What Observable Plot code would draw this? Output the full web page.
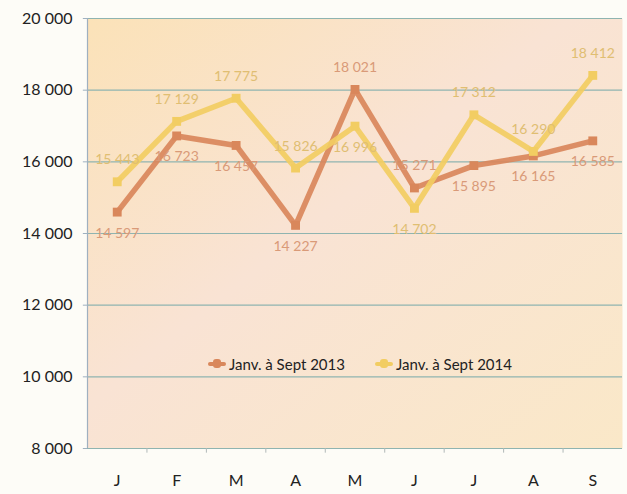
<!DOCTYPE html>
<html>
<head>
<meta charset="utf-8">
<script src="https://cdn.jsdelivr.net/npm/d3@7"></script>
<script src="https://cdn.jsdelivr.net/npm/@observablehq/plot@0.6"></script>
<style>
  html, body { margin: 0; padding: 0; background: #fdfcf7; }
  #wrap { position: relative; width: 627px; height: 494px; }
  #legend { position: absolute; left: 208px; top: 355px; display: flex; gap: 30px;
    font-family: Lato, "Open Sans", sans-serif; font-size: 15px; color: #222; }
  .item { display: flex; align-items: center; gap: 3px; }
  .sw { position: relative; width: 18px; height: 4px; border-radius: 2px; }
  .sw::after { content: ""; position: absolute; left: 5px; top: -3px; width: 8px; height: 9px; border-radius: 3px; background: inherit; }
</style>
</head>
<body>
<div id="wrap"></div>
<script>
const months = ["J", "F", "M", "A", "M", "J", "J", "A", "S"];
const series = ["Janv. à Sept 2013", "Janv. à Sept 2014"];
const values2013 = [14597, 16723, 16457, 14227, 18021, 15271, 15895, 16165, 16585];
const values2014 = [15443, 17129, 17775, 15826, 16996, 14702, 17312, 16290, 18412];
const labelSide2013 = ["below","below","below","below","above","above","below","below","below"];
const labelSide2014 = ["above","above","above","above","below","below","above","above","above"];
const yTicks = [8000, 10000, 12000, 14000, 16000, 18000, 20000];
const colors = ["#d9875b", "#f2cd62"];
const labelColors = ["#d99a78", "#e0be72"];

const rows = [];
months.forEach((m, i) => {
  rows.push({i, month: m, value: values2013[i], series: series[0], side: labelSide2013[i]});
  rows.push({i, month: m, value: values2014[i], series: series[1], side: labelSide2014[i]});
});
const fmt = v => d3.format(",")(v).replace(/,/g, "\u00a0");
const font = "Lato, 'Open Sans', sans-serif";

const plot = Plot.plot({
  width: 627,
  height: 494,
  marginLeft: 87,
  marginRight: 5,
  marginTop: 18,
  marginBottom: 46,
  style: {background: "transparent", fontFamily: font},
  x: {domain: [-0.5, 8.5], axis: null},
  y: {domain: [8000, 20000], axis: null},
  color: {domain: series, range: colors},
  marks: [
    Plot.frame({fill: "url(#bgGrad)", stroke: null}),
    Plot.ruleY(yTicks, {stroke: "#8fb4b0", strokeWidth: 1.2}),
    Plot.ruleX([-0.5], {y1: 8000, y2: 20000, stroke: "#9fb0c0", strokeWidth: 1.2}),
    Plot.ruleX(d3.range(0.5, 8.5, 1), {y1: 8000, y2: 7870, stroke: "#b0b8b8"}),
    Plot.ruleY(yTicks, {x1: -0.5, x2: -0.57, stroke: "#9fb0c0"}),
    Plot.text(yTicks, {x: -0.5, y: d => d, text: fmt, textAnchor: "end", dx: -15, fontSize: 16, fill: "#222", fontFamily: font, letterSpacing: -0.4}),
    Plot.text(months, {x: (d, i) => i, y: 8000, text: d => d, dy: 32, fontSize: 16, fill: "#222", fontFamily: font}),
    Plot.line(rows, {x: "i", y: "value", stroke: "series", z: "series", strokeWidth: 5.5, strokeLinejoin: "round", strokeOpacity: 0.92}),
    Plot.dot(rows, {x: "i", y: "value", fill: "series", symbol: "square", r: 5, strokeWidth: 0}),
    Plot.text(rows.filter(d => d.side === "above"), {x: "i", y: "value", text: d => fmt(d.value), dy: -22, fontSize: 14,
      fill: d => labelColors[series.indexOf(d.series)], fontFamily: font}),
    Plot.text(rows.filter(d => d.side === "below"), {x: "i", y: "value", text: d => fmt(d.value), dy: 21, fontSize: 14,
      fill: d => labelColors[series.indexOf(d.series)], fontFamily: font})
  ]
});

const defs = d3.select(plot).insert("defs", ":first-child");
const g = defs.append("linearGradient").attr("id", "bgGrad").attr("x1", "0").attr("y1", "0").attr("x2", "1").attr("y2", "1");
g.append("stop").attr("offset", "0%").attr("stop-color", "#fbe2b8");
g.append("stop").attr("offset", "45%").attr("stop-color", "#f9e3d4");
g.append("stop").attr("offset", "100%").attr("stop-color", "#fae8c8");

const wrap = document.getElementById("wrap");
wrap.appendChild(plot);
const legend = document.createElement("div");
legend.id = "legend";
series.forEach((s, k) => {
  const it = document.createElement("div");
  it.className = "item";
  const sw = document.createElement("span");
  sw.className = "sw";
  sw.style.background = colors[k];
  const t = document.createElement("span");
  t.textContent = s;
  it.appendChild(sw); it.appendChild(t);
  legend.appendChild(it);
});
wrap.appendChild(legend);
</script>
</body>
</html>
